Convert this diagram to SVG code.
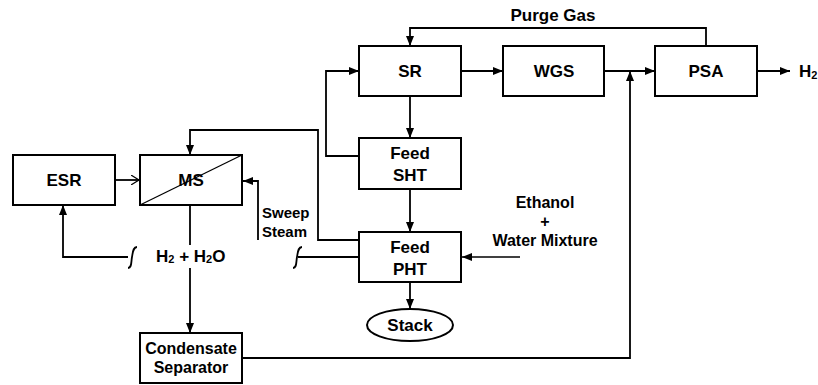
<svg xmlns="http://www.w3.org/2000/svg" width="818" height="385" viewBox="0 0 818 385">
<style>
.box{fill:#fff;stroke:#000;stroke-width:2}
.ln{fill:none;stroke:#000;stroke-width:1.8}
.thin{fill:none;stroke:#000;stroke-width:1.3}
text{font-family:"Liberation Sans",Arial,sans-serif;font-weight:bold;fill:#000}
.lbl{font-size:17px;text-anchor:middle}
.sm{font-size:16px}
</style>
<defs>
<marker id="ah" viewBox="0 0 10 8" refX="10" refY="4" markerWidth="10" markerHeight="8" markerUnits="userSpaceOnUse" orient="auto">
<path d="M0,0 L10,4 L0,8 Z" fill="#000"/>
</marker>
<marker id="ch" viewBox="0 0 8 10" refX="8" refY="5" markerWidth="8" markerHeight="10" markerUnits="userSpaceOnUse" orient="auto">
<path d="M0,0 L8,5 L0,10" fill="none" stroke="#000" stroke-width="1.2"/>
</marker>
</defs>
<rect width="818" height="385" fill="#fff"/>
<g id="connectors">
<path class="ln" d="M115,180 H139" marker-end="url(#ch)"/>
<path class="ln" d="M359,240 H318 V130 H190 V155" marker-end="url(#ah)"/>
<path class="ln" d="M258,240 V181 H243" marker-end="url(#ah)"/>
<path class="ln" d="M128,257 H63 V205" marker-end="url(#ah)"/>
<path class="ln" d="M128,268 C132,268 131,262 132,257 C133,252 133,247 137,247"/>
<path class="ln" d="M190,205 V245"/>
<path class="ln" d="M190,268 V333" marker-end="url(#ah)"/>
<path class="ln" d="M242,358 H630 V71" marker-end="url(#ah)"/>
<path class="ln" d="M410,96 V138" marker-end="url(#ah)"/>
<path class="ln" d="M359,156 H326 V71 H359" marker-end="url(#ah)"/>
<path class="ln" d="M410,189 V232" marker-end="url(#ah)"/>
<path class="ln" d="M410,282 V309" marker-end="url(#ah)"/>
<path class="ln" d="M359,257 H298"/>
<path class="ln" d="M293,268 C297,268 296,262 297,257 C298,252 298,247 302,247"/>
<path class="thin" d="M520,257 H462" marker-end="url(#ah)"/>
<path class="ln" d="M461,71 H503" marker-end="url(#ah)"/>
<path class="ln" d="M604,71 H655" marker-end="url(#ah)"/>
<path class="ln" d="M706,46 V28 H410 V46" marker-end="url(#ah)"/>
<path class="ln" d="M757,71 H790" marker-end="url(#ah)"/>
</g>
<g id="ESR"><rect class="box" x="13" y="155" width="102" height="50"/><text class="lbl" x="64" y="186">ESR</text></g>
<g id="MS"><rect class="box" x="140" y="155" width="102" height="50"/><line class="thin" x1="140" y1="205" x2="242" y2="155"/><text class="lbl" x="191" y="186">MS</text></g>
<g id="SR"><rect class="box" x="359" y="46" width="102" height="50"/><text class="lbl" x="410" y="77">SR</text></g>
<g id="WGS"><rect class="box" x="503" y="46" width="101" height="50"/><text class="lbl" x="554" y="77">WGS</text></g>
<g id="PSA"><rect class="box" x="655" y="46" width="102" height="50"/><text class="lbl" x="706" y="77">PSA</text></g>
<g id="FeedSHT"><rect class="box" x="359" y="138" width="102" height="51"/><text class="lbl" x="410" y="159">Feed</text><text class="lbl" x="410" y="181">SHT</text></g>
<g id="FeedPHT"><rect class="box" x="359" y="232" width="102" height="50"/><text class="lbl" x="410" y="253">Feed</text><text class="lbl" x="410" y="275">PHT</text></g>
<g id="Stack"><ellipse class="box" cx="410" cy="325" rx="43" ry="16"/><text class="lbl" x="410" y="331">Stack</text></g>
<g id="Condensate"><rect class="box" x="140" y="333" width="102" height="50"/><text class="lbl sm" x="191" y="354">Condensate</text><text class="lbl sm" x="191" y="373">Separator</text></g>
<g id="labels">
<text class="lbl" x="553" y="21" font-size="17.5">Purge Gas</text>
<text x="799" y="77" font-size="17">H<tspan font-size="11" dy="2">2</tspan></text>
<text x="262" y="218" font-size="15">Sweep</text>
<text x="262" y="237" font-size="15">Steam</text>
<text x="156" y="262" font-size="17">H<tspan font-size="11" dy="1">2</tspan><tspan dy="-1"> + H</tspan><tspan font-size="11" dy="1">2</tspan><tspan dy="-1">O</tspan></text>
<text class="lbl sm" x="545" y="208">Ethanol</text>
<text class="lbl sm" x="545" y="227">+</text>
<text class="lbl sm" x="545" y="246">Water Mixture</text>
</g>
</svg>
